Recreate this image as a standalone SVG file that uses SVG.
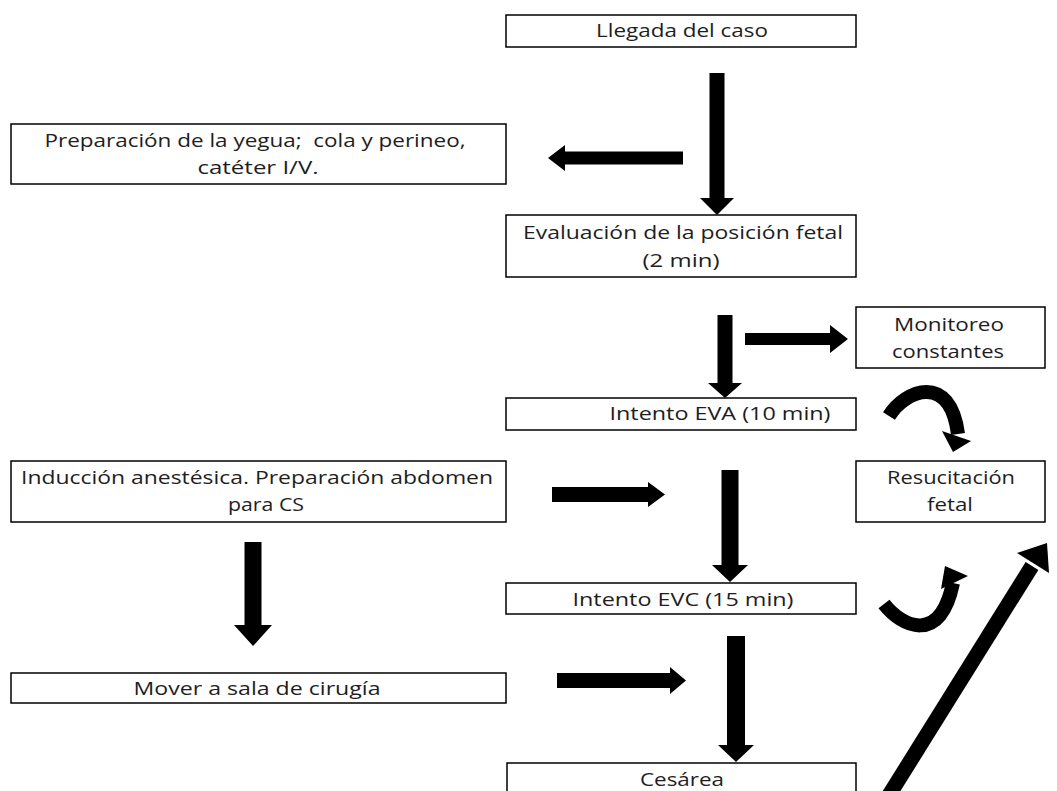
<svg xmlns="http://www.w3.org/2000/svg" width="1057" height="791" viewBox="0 0 1057 791">
<style>
.box{fill:#fff;stroke:#000;stroke-width:1.5}
.t{font-family:"Open Sans","Liberation Sans",sans-serif;font-size:18px;fill:#1e1e1e;text-anchor:middle;white-space:pre}
.arr{fill:#000;stroke:none}
.curve{fill:none;stroke:#000;stroke-width:14;stroke-linecap:butt}
</style>
<rect width="1057" height="791" fill="#fff"/>
<g id="connectors">
<path class="arr" d="M709.5 73 H724.5 V198 H734 L717 215 L700 198 H709.5 Z"/>
<path class="arr" d="M683 151.5 V164.5 H565 V171 L548 158 L565 145 V151.5 Z"/>
<path class="arr" d="M717.5 315 H732.5 V383 H742 L725 398 L708 383 H717.5 Z"/>
<path class="arr" d="M745 333 H830 V325 L848 339 L830 353 V345 H745 Z"/>
<path class="arr" d="M552 487 H648 V482 L665 494.5 L648 507 V502 H552 Z"/>
<path class="arr" d="M721.5 470 H738.5 V565 H748 L730 582 L712 565 H721.5 Z"/>
<path class="arr" d="M244.5 542 H261.5 V625 H272 L253 646 L234 625 H244.5 Z"/>
<path class="arr" d="M557 673 H670 V667 L686 680.5 L670 694 V688 H557 Z"/>
<path class="arr" d="M727 636 H745 V745 H754 L736 762 L718 745 H727 Z"/>
<path class="curve" d="M889 416 C905 390 950 372 958 434"/>
<polygon class="arr" points="942,431 971,441 953,452"/>
<path class="curve" d="M884 604 C902 627 940 645 953 583"/>
<polygon class="arr" points="945,566 941,589 968,576"/>
<line x1="886" y1="800" x2="1032" y2="566" stroke="#000" stroke-width="15"/>
<polygon class="arr" points="1047,543 1017,553 1049,573"/>
</g>
<g id="n1"><rect class="box" x="506" y="15" width="350" height="32"/><text class="t" x="682" y="37" textLength="172" lengthAdjust="spacingAndGlyphs">Llegada del caso</text></g>
<g id="n2"><rect class="box" x="11" y="124" width="495" height="60"/><text class="t" x="255" y="147" textLength="421" lengthAdjust="spacingAndGlyphs" xml:space="preserve">Preparación de la yegua;  cola y perineo,</text><text class="t" x="258" y="174" textLength="121" lengthAdjust="spacingAndGlyphs">catéter I/V.</text></g>
<g id="n3"><rect class="box" x="506" y="215" width="350" height="62"/><text class="t" x="683" y="239" textLength="320" lengthAdjust="spacingAndGlyphs">Evaluación de la posición fetal</text><text class="t" x="681" y="267" textLength="77" lengthAdjust="spacingAndGlyphs">(2 min)</text></g>
<g id="n4"><rect class="box" x="856" y="307" width="189" height="61"/><text class="t" x="949" y="331" textLength="110" lengthAdjust="spacingAndGlyphs">Monitoreo</text><text class="t" x="948" y="358" textLength="112" lengthAdjust="spacingAndGlyphs">constantes</text></g>
<g id="n5"><rect class="box" x="506" y="398" width="350" height="32"/><text class="t" x="720" y="420" textLength="221" lengthAdjust="spacingAndGlyphs">Intento EVA (10 min)</text></g>
<g id="n6"><rect class="box" x="856" y="461" width="189" height="61"/><text class="t" x="951" y="484" textLength="128" lengthAdjust="spacingAndGlyphs">Resucitación</text><text class="t" x="950" y="511" textLength="46" lengthAdjust="spacingAndGlyphs">fetal</text></g>
<g id="n7"><rect class="box" x="11" y="461" width="495" height="61"/><text class="t" x="257" y="484" textLength="472" lengthAdjust="spacingAndGlyphs">Inducción anestésica. Preparación abdomen</text><text class="t" x="266" y="511" textLength="76" lengthAdjust="spacingAndGlyphs">para CS</text></g>
<g id="n8"><rect class="box" x="506" y="583" width="350" height="31"/><text class="t" x="683" y="606" textLength="221" lengthAdjust="spacingAndGlyphs">Intento EVC (15 min)</text></g>
<g id="n9"><rect class="box" x="11" y="673" width="495" height="30"/><text class="t" x="257" y="695" textLength="247" lengthAdjust="spacingAndGlyphs">Mover a sala de cirugía</text></g>
<g id="n10"><rect class="box" x="507" y="763" width="349" height="40"/><text class="t" x="682" y="786" textLength="84" lengthAdjust="spacingAndGlyphs">Cesárea</text></g>
</svg>
